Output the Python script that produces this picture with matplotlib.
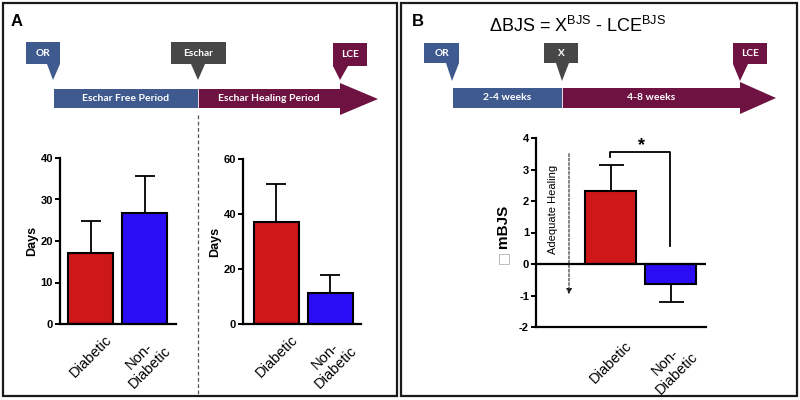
import matplotlib
matplotlib.use("Agg")
import matplotlib.pyplot as plt
from matplotlib.patches import Polygon, Rectangle, FancyArrowPatch

plt.rcParams['font.family'] = ['Liberation Sans', 'DejaVu Sans']
plt.rcParams['mathtext.fontset'] = 'custom'
plt.rcParams['mathtext.rm'] = 'Liberation Sans'
plt.rcParams['mathtext.it'] = 'Liberation Sans:italic'
plt.rcParams['mathtext.bf'] = 'Liberation Sans:bold'
plt.rcParams['axes.unicode_minus'] = False

# ---------------- data ----------------
groups = ['Diabetic', 'Non-\nDiabetic']
eschar_free_days = [17.1, 26.8]
eschar_free_err = [7.7, 8.9]
eschar_heal_days = [37.1, 11.3]
eschar_heal_err = [13.8, 6.5]
delta_mbjs = [2.32, -0.63]
delta_mbjs_err = [0.82, 0.58]

ticks_free = [0, 10, 20, 30, 40]
ticks_heal = [0, 20, 40, 60]
ticks_mbjs = [-2, -1, 0, 1, 2, 3, 4]

timeline_a = ['OR', 'Eschar', 'LCE']
periods_a = ['Eschar Free Period', 'Eschar Healing Period']
timeline_b = ['OR', 'X', 'LCE']
periods_b = ['2-4 weeks', '4-8 weeks']

BLUE_TL = '#3F5A8F'
GRAY_TL = '#474747'
MAROON = '#6E1241'
RED = '#CD1719'
BLUE = '#2A0DF5'

W, H = 800, 400
fig = plt.figure(figsize=(8, 4), dpi=100)
bg = fig.add_axes([0, 0, 1, 1])
bg.set_xlim(0, W)
bg.set_ylim(H, 0)
bg.axis('off')

# panel borders
for x0, x1 in [(3, 397), (401, 797)]:
    bg.add_patch(Rectangle((x0, 3), x1 - x0, 393, fill=False, ec='#1a1a1a', lw=1.6))

bg.text(17, 21, 'A', fontsize=12, fontweight='bold', ha='center', va='center')
bg.text(418, 22, 'B', fontsize=12, fontweight='bold', ha='center', va='center')
bg.text(578, 26, r'ΔBJS = X$^{\mathrm{BJS}}$ - LCE$^{\mathrm{BJS}}$',
        fontsize=13, ha='center', va='center')


def callout(x0, x1, y0, y1, tl, tr, tipx, tipy, color, label):
    pts = [(x0, y0), (x1, y0), (x1, y1), (tr, y1), (tipx, tipy), (tl, y1), (x0, y1)]
    bg.add_patch(Polygon(pts, closed=True, fc=color, ec='none'))
    bg.text((x0 + x1) / 2, (y0 + y1) / 2, label, color='white', fontsize=7.3,
            fontweight='bold', family='Lato', ha='center', va='center')


def timeline(xs, xm, xh, xt, yb0, yb1, yh0, yh1, labels):
    bg.add_patch(Rectangle((xs, yb0), xm - xs, yb1 - yb0, fc=BLUE_TL, ec='none'))
    pts = [(xm, yb0), (xh, yb0), (xh, yh0), (xt, (yh0 + yh1) / 2), (xh, yh1), (xh, yb1), (xm, yb1)]
    bg.add_patch(Polygon(pts, closed=True, fc=MAROON, ec='none'))
    bg.plot([xm, xm], [yb0, yb1], color='white', lw=0.6)
    yc = (yb0 + yb1) / 2
    bg.text((xs + xm) / 2, yc, labels[0], color='white', fontsize=7.5, fontweight='bold',
            family='Lato', ha='center', va='center')
    bg.text((xm + xh) / 2, yc, labels[1], color='white', fontsize=7.5, fontweight='bold',
            family='Lato', ha='center', va='center')


# timeline A
timeline(54, 198, 340, 378, 89, 108, 83, 115, periods_a)
callout(26, 60, 42, 64, 47, 60, 53, 80, BLUE_TL, timeline_a[0])
callout(171, 226, 42, 64, 191, 205, 198, 80, GRAY_TL, timeline_a[1])
callout(333, 367, 43, 66, 333, 348, 340, 80, MAROON, timeline_a[2])
bg.plot([198, 198], [115, 395], color='#555555', lw=0.9, ls=(0, (3, 2)))

# timeline B
timeline(453, 562, 740, 776, 88, 108, 82, 114, periods_b)
callout(424, 459, 43, 63, 446, 459, 452, 81, BLUE_TL, timeline_b[0])
callout(544, 578, 43, 63, 556, 569, 562, 81, GRAY_TL, timeline_b[1])
callout(733, 767, 43, 64, 733, 748, 740, 81, MAROON, timeline_b[2])


def px_axes(x0, y0, x1, y1):
    return fig.add_axes([x0 / W, 1 - y1 / H, (x1 - x0) / W, (y1 - y0) / H])


def style(ax, yticks, ylim, xlim):
    ax.set_ylim(*ylim)
    ax.set_xlim(*xlim)
    ax.set_yticks(yticks)
    for s in ['top', 'right']:
        ax.spines[s].set_visible(False)
    for s in ['left', 'bottom']:
        ax.spines[s].set_linewidth(1.6)
    ax.tick_params(axis='y', length=3.5, width=1.4, pad=1.5, labelsize=8)
    ax.tick_params(axis='x', length=0, pad=6)
    for lab in ax.get_yticklabels():
        lab.set_fontweight('bold')
    ax.patch.set_alpha(0)


def bars(ax, vals, errs_lo, errs_hi, width, capsize):
    x = list(range(len(vals)))
    ax.bar(x, vals, width=width, color=[RED, BLUE], edgecolor='black', linewidth=1.5, zorder=2)
    ax.errorbar(x, vals, yerr=[errs_lo, errs_hi], fmt='none', ecolor='black',
                elinewidth=1.3, capsize=capsize, capthick=1.3, zorder=1)
    ax.set_xticks(x)
    ax.set_xticklabels(groups, rotation=45, ha='center', multialignment='center', fontsize=10.5)


# Panel A left: eschar free period
ax1 = px_axes(60, 158, 176, 324)
bars(ax1, eschar_free_days, [0, 0], eschar_free_err, 45 / 54, 7.5)
style(ax1, ticks_free, (0, 40), (-0.565, 1.583))
ax1.set_ylabel('Days', fontsize=9, fontweight='bold', labelpad=2)

# Panel A right: eschar healing period
ax2 = px_axes(243, 159, 361, 324)
bars(ax2, eschar_heal_days, [0, 0], eschar_heal_err, 45 / 54, 7.5)
style(ax2, ticks_heal, (0, 60), (-0.62, 1.565))
ax2.set_ylabel('Days', fontsize=9, fontweight='bold', labelpad=2)

# Panel B
ax3 = px_axes(536, 138, 706, 327)
bars(ax3, delta_mbjs, [0, delta_mbjs_err[1]], [delta_mbjs_err[0], 0], 51 / 60, 9)
style(ax3, ticks_mbjs, (-2, 4), (-1.242, 1.59))
ax3.axhline(0, color='black', lw=1.6, zorder=3)
ax3.tick_params(axis='x', pad=8)

# y label of panel B (tofu box + mBJS)
bg.text(503, 226, 'mBJS', rotation=90, fontsize=11, fontweight='bold', ha='center', va='center')
bg.text(503, 257, '\u25a1', rotation=90, fontsize=10, color='#aaaaaa', ha='center', va='center',
        family='DejaVu Sans')

# adequate healing arrow
bg.text(553, 209, 'Adequate Healing', rotation=90, fontsize=8, ha='center', va='center')
bg.add_patch(FancyArrowPatch((569, 151), (569, 297), arrowstyle='-|>', mutation_scale=8,
                             color='#222222', lw=0.8, ls=(0, (2.5, 1.5))))

# significance bracket
bg.plot([610, 610, 670, 670], [157, 152, 152, 246], color='black', lw=1.3)
bg.text(642, 146, '*', fontsize=13, fontweight='bold', ha='center', va='center')

fig.savefig('out.png', dpi=100)
